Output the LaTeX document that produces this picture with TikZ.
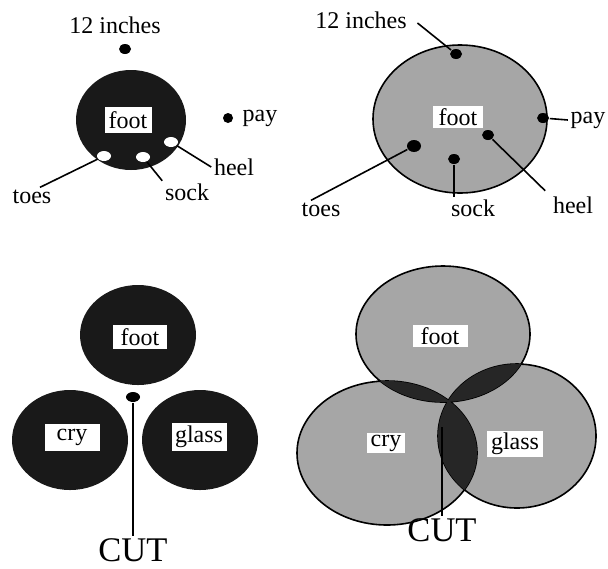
\documentclass[tikz,border=0pt]{standalone}
\usepackage{fontspec}
\setmainfont{Liberation Serif}
\usetikzlibrary{positioning, shapes.geometric}

\def\Dfoot{(443,334) ellipse [x radius=43.5pt, y radius=34pt]}
\def\Dcry{(387,453) ellipse [x radius=45pt, y radius=36pt]}
\def\Dglass{(517,436) ellipse [x radius=39.5pt, y radius=36pt]}

\begin{document}
\begin{tikzpicture}[x=0.5pt, y=-0.5pt, font=\large, line width=0.8pt,
    dark/.style={ellipse, fill=black!90, inner sep=0pt},
    pale/.style={ellipse, inner sep=0pt, minimum width=87pt, minimum height=74pt},
    dot/.style={ellipse, fill=black, inner sep=0pt, minimum width=6pt, minimum height=5pt},
    hole/.style={dot, fill=white, minimum width=7pt},
    tag/.style={fill=white, inner sep=1pt, minimum height=12pt},
    lab/.style={inner sep=1pt}]
    \useasboundingbox (0,0) rectangle (608,568);

    \node (A) [dark, minimum width=55pt, minimum height=50pt] at (131,120) {};
    \node (Af) [tag, minimum width=23.5pt, minimum height=13pt] at (128,120) {foot};
    \node (Ai) [lab] at (115,25) {12 inches};
    \node (Ad) [dot] at (125,49) {};
    \node (Ap) [dot, minimum width=5pt] at (228,118) {};
    \node (Apay) [lab, right=3pt of Ap] {pay};
    \node (At) [hole] at (104,156) {};
    \node (As) [hole] at (143,157) {};
    \node (Ah) [hole] at (171,142) {};
    \node (Atoes) [lab] at (32,197) {toes};
    \node (Asock) [lab] at (187,192) {sock};
    \node (Aheel) [lab] at (234,167) {heel};
    \draw (At) -- ([xshift=4pt]Atoes.north);
    \draw (As) -- (Asock.north west);
    \draw (Ah) -- (Aheel.west);

    \node (B) [pale, fill=black!35, draw] at (460,119) {};
    \node (Bf) [tag, minimum width=25pt, minimum height=10.5pt] at (458,117) {foot};
    \node (Bi) [lab] at (361,20) {12 inches};
    \node (Bd) [dot] at (456,54) {};
    \node (Bp) [dot] at (543,118) {};
    \node (Bpay) [lab] at (588,120) {pay};
    \node (Bh) [dot] at (488,135) {};
    \node (Bs) [dot] at (454,159) {};
    \node (Bt) [dot, minimum width=7pt, minimum height=6pt] at (414,146) {};
    \node (Bheel) [lab] at (573,205) {heel};
    \node (Bsock) [lab] at (473,208) {sock};
    \node (Btoes) [lab] at (321,210) {toes};
    \draw ([shift={(8,3)}]Bi.east) -- (Bd);
    \draw (Bp) -- (Bpay.west);
    \draw (Bh) -- ([shift={(-5,-3)}]Bheel.north west);
    \draw (Bs) -- (Bs |- Bsock.north);
    \draw (Bt) -- ([xshift=-5pt]Btoes.north);

    \node (C) [dark, minimum width=58pt, minimum height=50pt] at (138,335) {};
    \node (Cc) [dark, minimum width=58pt, minimum height=50pt] at (70,440) {};
    \node (Cg) [dark, minimum width=58pt, minimum height=50pt] at (200,440) {};
    \node (Cfoot) [tag, minimum width=27pt] at (140,337) {foot};
    \node (Ccry) [tag, minimum width=27.5pt, minimum height=13.5pt] at (72,437) {cry};
    \node (Cglass) [tag, minimum width=27.5pt, minimum height=14pt] at (199,437) {glass};
    \node (Cd) [dot, minimum width=7pt] at (133,397) {};
    \node (Ccut) [lab, font=\LARGE] at (133,550) {CUT};
    \draw (Cd) -- (Ccut.north);

    \fill[black!35] \Dfoot \Dcry \Dglass;
    \draw \Dfoot \Dcry \Dglass;
    \begin{scope}
        \clip \Dcry;
        \fill[black!85] \Dfoot \Dglass;
    \end{scope}
    \begin{scope}
        \clip \Dfoot;
        \fill[black!85] \Dglass;
    \end{scope}
    \coordinate (Dx) at (442,427);
    \node (Dfoot) [tag, minimum width=27.5pt, minimum height=11pt] at (440,336) {foot};
    \node (Dcry) [tag, minimum width=19pt, minimum height=10pt] at (386,443) {cry};
    \node (Dglass) [tag, minimum width=28pt] at (515,444) {glass};
    \node (Dcut) [lab, font=\LARGE] at (442,530) {CUT};
    \draw (Dx) -- (Dcut.north);
\end{tikzpicture}
\end{document}
